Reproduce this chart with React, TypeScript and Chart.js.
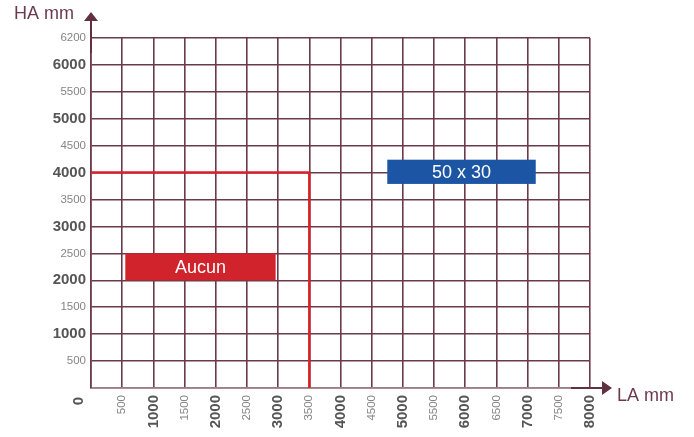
import React, { useEffect, useRef } from "react";
import { Chart, registerables } from "chart.js";

Chart.register(...registerables);

// ---- data ----
const xMin = 0;
const xMax = 8000;
const yMin = 0;
const yMax = 6500;
const tickStep = 500;
const xTickLabels = ["", "500", "1000", "1500", "2000", "2500", "3000", "3500", "4000", "4500", "5000", "5500", "6000", "6500", "7000", "7500", "8000"];
const yTickLabels = ["", "500", "1000", "1500", "2000", "2500", "3000", "3500", "4000", "4500", "5000", "5500", "6000", "6200"];
const limitX = [0, 3500, 3500];
const limitY = [4000, 4000, 0];
const zoneLabels = ["Aucun", "50 x 30"];
const zoneX0 = [550, 4750];
const zoneX1 = [2960, 7130];
const zoneY0 = [2000, 3790];
const zoneY1 = [2500, 4240];
const zoneColors = ["#d1232b", "#1c55a4"];
const xAxisTitle = "LA mm";
const yAxisTitle = "HA mm";
const originLabel = "0";

const FONT = "'Liberation Sans', Arial, sans-serif";
const GRID = "#6a3a4a";
const AXIS_DARK = "#62303f";

const overlayPlugin = {
  id: "overlay",
  afterDatasetsDraw(chart: any) {
    const ctx = chart.ctx;
    const xs = chart.scales.x;
    const ys = chart.scales.y;
    ctx.save();
    for (let i = 0; i < zoneLabels.length; i++) {
      const l = xs.getPixelForValue(zoneX0[i]);
      const r = xs.getPixelForValue(zoneX1[i]);
      const t = ys.getPixelForValue(zoneY1[i]);
      const b = ys.getPixelForValue(zoneY0[i]);
      ctx.fillStyle = zoneColors[i];
      ctx.fillRect(l, t, r - l, b - t);
      ctx.fillStyle = "#ffffff";
      ctx.font = `18px ${FONT}`;
      ctx.textAlign = "center";
      ctx.textBaseline = "middle";
      ctx.fillText(zoneLabels[i], (l + r) / 2, (t + b) / 2 + 1);
    }
    ctx.restore();
  },
  afterDraw(chart: any) {
    const ctx = chart.ctx;
    const a = chart.chartArea;
    ctx.save();
    // y arrow
    ctx.strokeStyle = AXIS_DARK;
    ctx.fillStyle = AXIS_DARK;
    ctx.lineWidth = 2;
    ctx.beginPath();
    ctx.moveTo(a.left, a.top + 15);
    ctx.lineTo(a.left, 20);
    ctx.stroke();
    ctx.beginPath();
    ctx.moveTo(a.left, 12);
    ctx.lineTo(a.left - 7, 21);
    ctx.lineTo(a.left + 7, 21);
    ctx.closePath();
    ctx.fill();
    // x arrow
    ctx.beginPath();
    ctx.moveTo(a.right - 19, a.bottom);
    ctx.lineTo(a.right + 13, a.bottom);
    ctx.stroke();
    ctx.beginPath();
    ctx.moveTo(a.right + 22, a.bottom);
    ctx.lineTo(a.right + 12, a.bottom - 7);
    ctx.lineTo(a.right + 12, a.bottom + 7);
    ctx.closePath();
    ctx.fill();
    // titles
    ctx.fillStyle = "#6b3a4f";
    ctx.font = `18px ${FONT}`;
    ctx.textAlign = "left";
    ctx.textBaseline = "alphabetic";
    ctx.fillText(yAxisTitle, 14, 19);
    ctx.fillText(xAxisTitle, a.right + 27, a.bottom + 13);
    // origin label
    ctx.fillStyle = "#555555";
    ctx.font = `bold 15px ${FONT}`;
    ctx.translate(a.left - 12, a.bottom + 9);
    ctx.rotate(-Math.PI / 2);
    ctx.textAlign = "right";
    ctx.textBaseline = "middle";
    ctx.fillText(originLabel, 0, 0);
    ctx.restore();
  },
};

export default function App() {
  const ref = useRef<HTMLCanvasElement>(null);
  useEffect(() => {
    if (!ref.current) return;
    const isMajor = (v: number) => v % 1000 === 0 && v <= 6000;
    const isMajorX = (v: number) => v % 1000 === 0;
    const chart = new Chart(ref.current, {
      type: "scatter",
      data: {
        datasets: [
          {
            data: limitX.map((x, i) => ({ x, y: limitY[i] })),
            showLine: true,
            borderColor: "#d8222b",
            borderWidth: 2.5,
            pointRadius: 0,
            tension: 0,
            clip: false as any,
          },
        ],
      },
      options: {
        animation: false,
        responsive: false,
        maintainAspectRatio: false,
        layout: { padding: { left: 0, top: 38, right: 104, bottom: 0 } },
        plugins: { legend: { display: false }, tooltip: { enabled: false } },
        scales: {
          x: {
            type: "linear",
            min: xMin,
            max: xMax,
            afterFit: (s: any) => {
              s.height = 49;
            },
            border: { color: "#9a7f88", width: 1.6 },
            grid: { color: GRID, lineWidth: 1.6, drawTicks: false },
            ticks: {
              stepSize: tickStep,
              autoSkip: false,
              minRotation: 90,
              maxRotation: 90,
              padding: 7,
              callback: (v: any) => xTickLabels[Math.round(Number(v) / tickStep)] ?? "",
              font: (c: any) =>
                c.tick && isMajorX(c.tick.value)
                  ? { family: FONT, size: 15, weight: "bold" }
                  : { family: FONT, size: 11.5, weight: "normal" },
              color: (c: any) => (c.tick && isMajorX(c.tick.value) ? "#555555" : "#858585"),
            },
          },
          y: {
            type: "linear",
            min: yMin,
            max: yMax,
            afterFit: (s: any) => {
              s.width = 91;
            },
            border: { color: GRID, width: 1.6 },
            grid: { color: GRID, lineWidth: 1.6, drawTicks: false },
            ticks: {
              stepSize: tickStep,
              autoSkip: false,
              padding: 5,
              callback: (v: any) => yTickLabels[Math.round(Number(v) / tickStep)] ?? "",
              font: (c: any) =>
                c.tick && isMajor(c.tick.value)
                  ? { family: FONT, size: 15, weight: "bold" }
                  : { family: FONT, size: 11.5, weight: "normal" },
              color: (c: any) => (c.tick && isMajor(c.tick.value) ? "#555555" : "#858585"),
            },
          },
        },
      },
      plugins: [overlayPlugin],
    } as any);
    return () => chart.destroy();
  }, []);
  return (
    <div style={{ position: "fixed", left: 0, top: 0, width: 694, height: 437, background: "#fff" }}>
      <canvas ref={ref} width={694} height={437} style={{ width: 694, height: 437 }} />
    </div>
  );
}
